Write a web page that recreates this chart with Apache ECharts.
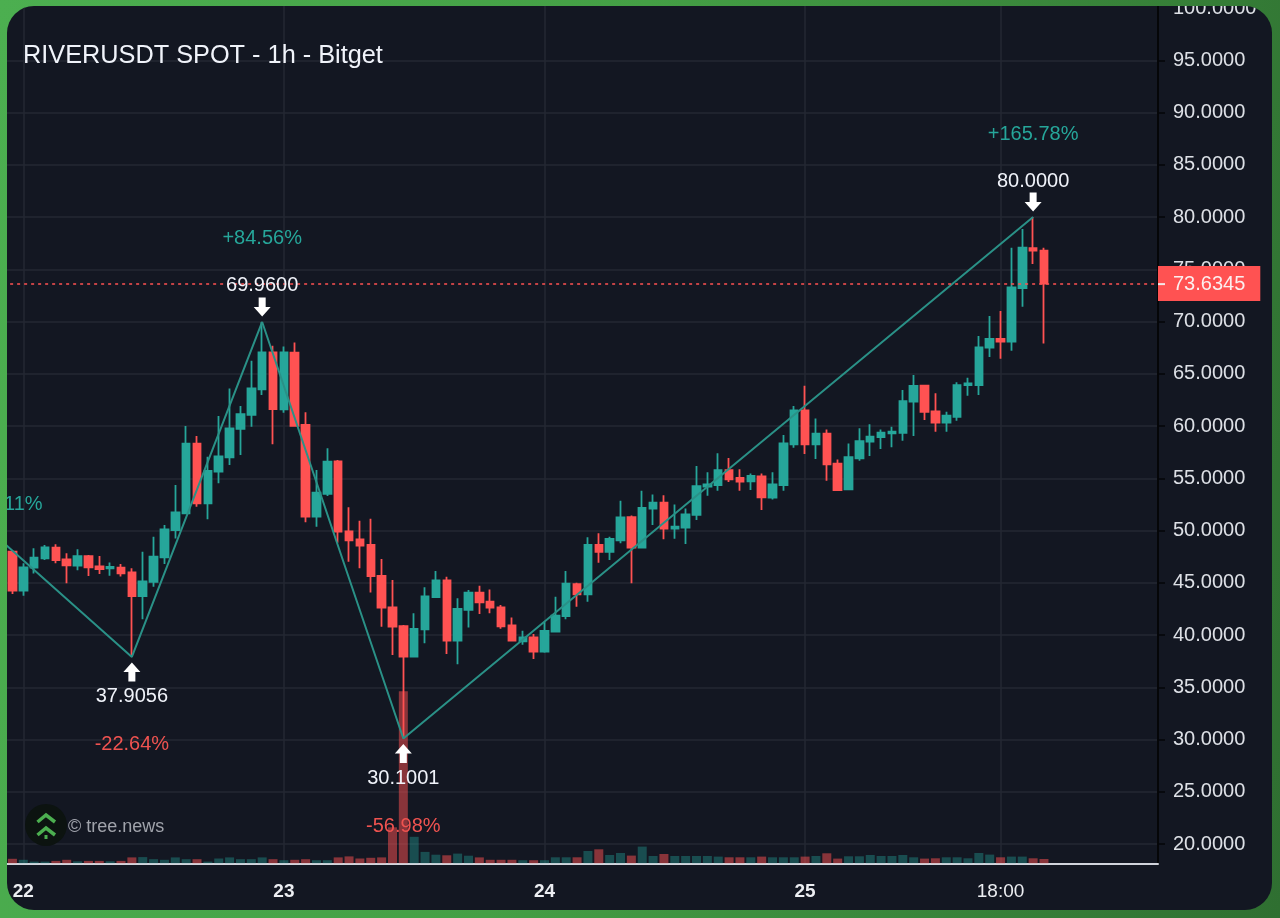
<!DOCTYPE html>
<html>
<head>
<meta charset="utf-8">
<title>RIVERUSDT SPOT - 1h - Bitget</title>
<script src="https://cdn.jsdelivr.net/npm/echarts@6/dist/echarts.min.js"></script>
<style>
  html, body { margin: 0; padding: 0; width: 1280px; height: 918px; overflow: hidden; }
  body { background: linear-gradient(100deg, #4caf50 0%, #449f45 45%, #2f6f31 100%); }
  #card { position: absolute; left: 7px; top: 6px; width: 1265px; height: 904px; border-radius: 27px; overflow: hidden; background: #131722; }
  #chart { position: absolute; left: -7px; top: -6px; width: 1280px; height: 918px; }
</style>
</head>
<body>
<div id="card"><div id="chart"></div></div>
<script>
// hourly candles (first one is 21st 23:00)
var opens = [47.98,44.25,46.45,47.34,48.36,47.24,46.64,47.56,46.57,46.38,46.45,46.00,43.73,45.08,47.44,50.05,51.65,58.31,52.60,55.63,57.00,59.72,61.06,63.51,67.05,61.60,67.02,60.10,51.33,53.50,56.62,49.92,49.16,48.62,45.65,42.65,40.86,37.93,40.55,43.64,45.23,39.46,42.40,44.05,43.19,42.65,40.93,39.40,39.78,38.41,40.32,41.82,44.88,43.89,48.62,47.95,49.06,51.29,48.36,52.09,52.67,50.18,50.27,51.49,54.20,54.36,55.79,55.03,54.71,55.19,53.15,54.36,58.25,61.50,58.25,59.27,56.40,53.94,56.91,58.50,58.95,59.30,59.36,62.33,63.86,61.40,60.32,60.89,63.92,63.92,67.50,68.33,68.07,73.21,77.03,76.78];
var closes = [44.25,46.48,47.40,48.39,47.18,46.67,47.56,46.48,46.32,46.51,45.90,43.73,45.14,47.50,50.11,51.74,58.31,52.60,55.70,57.10,59.78,61.15,63.60,67.05,61.63,67.05,60.03,51.33,53.62,56.59,49.89,49.06,48.55,45.65,42.62,40.80,37.93,40.58,43.70,45.23,39.46,42.49,44.05,43.13,42.62,40.83,39.46,39.78,38.41,40.39,41.85,44.92,43.89,48.62,47.95,49.19,51.26,48.36,52.16,52.67,50.18,50.37,51.55,54.26,54.42,55.79,54.90,54.68,55.22,53.18,54.42,58.34,61.50,58.25,59.27,56.33,53.88,57.03,58.56,58.98,59.36,59.46,62.39,63.83,61.37,60.32,61.00,63.92,64.08,67.53,68.33,68.07,73.27,77.07,76.78,73.6345];
var lows = [43.93,43.77,45.90,47.18,46.86,44.95,46.20,45.65,45.84,45.68,45.60,37.9056,41.50,44.63,46.80,49.25,51.65,52.28,51.07,54.52,56.27,57.23,59.94,62.97,58.25,61.28,60.00,50.80,50.37,53.30,48.84,47.02,46.38,44.06,40.80,38.09,30.1001,37.87,39.21,43.64,38.18,37.20,40.71,42.01,42.08,40.61,39.40,39.08,37.71,38.31,40.26,41.50,42.71,43.19,46.92,47.18,48.78,44.95,48.30,50.53,49.16,49.22,48.71,51.00,53.34,53.81,54.64,53.81,53.88,51.96,52.97,53.81,57.93,57.32,56.84,54.77,53.81,53.94,56.68,57.13,57.80,57.96,58.60,59.04,60.57,59.46,59.46,60.51,62.90,62.97,66.60,66.44,67.21,71.42,75.50,67.91];
var highs = [48.00,46.86,48.30,48.62,48.68,47.82,48.20,47.66,47.56,46.95,46.80,46.38,47.98,49.40,50.53,54.36,60.00,59.05,57.07,60.96,63.60,61.92,66.25,69.96,67.69,67.60,68.00,61.31,55.79,57.87,56.75,52.22,50.94,51.14,47.28,45.27,40.96,42.08,44.57,46.13,45.59,43.51,44.31,44.72,44.37,42.87,41.69,40.42,40.10,41.28,43.67,46.13,45.01,49.35,49.73,49.41,52.86,51.45,53.81,53.46,53.37,52.50,52.12,56.17,55.57,57.39,56.94,55.86,55.47,55.47,55.57,59.14,61.91,63.86,60.73,59.68,56.81,58.34,59.78,60.16,59.68,59.94,63.45,64.88,63.90,63.13,61.37,64.18,64.63,68.61,70.53,71.00,77.07,78.85,80.00,77.07];
var volumes = [4.5,3.5,1.7,1.7,2.4,3.5,2,2.4,2.4,2,2.4,5.9,6.2,4.1,3.5,5.9,4.1,4.1,1.7,4.8,5.9,4.1,4.1,5.9,4.1,3.1,3.5,4.1,3.1,3.1,5.9,6.9,4.8,5.5,5.9,36,172,26.5,11.4,8.6,8,9.7,7.6,5.9,3.5,3.5,3.5,3.1,3.1,3.1,6,6,6,12.3,14,8.3,10.3,7.7,16.7,7.3,9.3,7.3,7.3,7.3,7.3,6.7,6,6,6,6.7,6,6,6,6.7,7.3,10,4.7,7,7,8.3,7.3,7.3,8.3,6,4.7,5,6,6,5,10.3,8.7,6,6.7,6.7,5,4.3];

// zigzag between the swing points, category slot 0 sits just off the left edge
var zigzagSlots = [0, 12, 24, 37, 95];
var zigzagPrices = [49.0, 37.9056, 69.96, 30.1001, 80];
var pivotSlots = [12, 24, 37, 95];
var pivotPrices = [37.9056, 69.96, 30.1001, 80];
var pivotChanges = ['-22.64%', '+84.56%', '-56.98%', '+165.78%'];
var cutChangeSlot = 2, cutChangePrice = 52.54, cutChangeText = '11%';

var lastPrice = 73.6345;
var yTicks = [20, 25, 30, 35, 40, 45, 50, 55, 60, 65, 70, 75, 80, 85, 90, 95, 100];
var yGridTicks = [20, 25, 30, 35, 40, 45, 50, 55, 60, 65, 70, 75, 80, 85, 90, 95];
var xTickSlots = [2, 26, 50, 74, 92];
var xTickLabels = ['22', '23', '24', '25', '18:00'];

var UP = '#26a69a', DOWN = '#ff5252', TEXT = '#dde0e6', GRID = '#252933';
var FONT = '"Liberation Sans", Arial, sans-serif';
var ARROW_DOWN = 'path://M5,0 H12 V9 H17 L8.5,18 L0,9 H5 Z';
var ARROW_UP = 'path://M8.5,0 L17,9 H12 V18 H5 V9 H0 Z';

var slotCount = 107;
var categories = [];
for (var i = 0; i < slotCount; i++) categories.push('' + i);

var candleData = ['-'], volumeData = [null];
for (var c = 0; c < opens.length; c++) {
  candleData.push([opens[c], closes[c], lows[c], highs[c]]);
  volumeData.push({
    value: volumes[c],
    itemStyle: { color: closes[c] >= opens[c] ? 'rgba(38,166,154,0.38)' : 'rgba(255,82,82,0.5)' }
  });
}

function isTickSlot(index) { return xTickSlots.indexOf(index) >= 0; }

var zigzagData = zigzagSlots.map(function (s, n) { return [s, zigzagPrices[n]]; });
var arrowData = pivotSlots.map(function (s, n) {
  var up = n % 2 === 0;
  return { value: [s, pivotPrices[n]], symbol: up ? ARROW_UP : ARROW_DOWN, symbolOffset: [0, up ? 15 : -15] };
});
var priceLabelData = pivotSlots.map(function (s, n) {
  var up = n % 2 === 0;
  return {
    value: [s, pivotPrices[n]],
    label: { offset: [0, up ? 40 : -36], formatter: pivotPrices[n].toFixed(4) }
  };
});
var changeLabelData = pivotSlots.map(function (s, n) {
  var up = n % 2 === 0;
  return {
    value: [s, pivotPrices[n]],
    label: { offset: [0, up ? 88 : -83], formatter: pivotChanges[n], color: up ? '#ef5350' : '#26a69a' }
  };
});
changeLabelData.push({
  value: [cutChangeSlot, cutChangePrice],
  label: { formatter: cutChangeText, color: '#26a69a' }
});

var chart = echarts.init(document.getElementById('chart'), null, { renderer: 'canvas' });
chart.setOption({
  animation: false,
  backgroundColor: 'transparent',
  textStyle: { fontFamily: FONT },
  title: {
    text: 'RIVERUSDT SPOT - 1h - Bitget',
    left: 23, top: 44, padding: 0,
    textStyle: { color: '#f0f3fa', fontSize: 25.3, fontWeight: 'normal', fontFamily: FONT }
  },
  grid: { left: -3.86, right: 122, top: 0, bottom: 54, outerBoundsMode: 'none' },
  xAxis: {
    type: 'category',
    data: categories,
    axisLine: { lineStyle: { color: '#d1d4dc', width: 2 } },
    axisTick: { alignWithLabel: true, length: 6, interval: function (index) { return isTickSlot(index); }, lineStyle: { color: '#d1d4dc', width: 1.5 } },
    axisLabel: {
      interval: function (index) { return isTickSlot(index); },
      margin: 18, fontSize: 19, color: '#eceef2', hideOverlap: false,
      formatter: function (value, index) {
        var label = xTickLabels[xTickSlots.indexOf(index)];
        return label === '18:00' ? label : '{day|' + label + '}';
      },
      rich: { day: { fontWeight: 'bold', fontSize: 19, color: '#eceef2', fontFamily: FONT } }
    },
    splitLine: { show: true, alignWithLabel: true, interval: function (index) { return isTickSlot(index); }, lineStyle: { color: GRID, width: 1.5 } }
  },
  yAxis: [{
    type: 'value',
    position: 'right',
    min: 18.09, max: 100.77,
    axisLine: { show: true, lineStyle: { color: '#050608', width: 2 } },
    axisTick: { show: true, length: 7, customValues: yGridTicks, lineStyle: { color: '#050608', width: 1.5 } },
    axisLabel: {
      customValues: yTicks, margin: 15, fontSize: 20, color: TEXT, padding: [2, 0, 0, 0],
      formatter: function (v) { return v.toFixed(4); }
    },
    splitLine: { show: true, lineStyle: { color: GRID, width: 1.5 } }
  }, {
    // volume scale in pixels of the pane, hidden. base sits just above the axis line
    type: 'value', show: false, min: -0.7, max: 863.3, splitLine: { show: false }
  }],
  series: [{
    name: 'Volume', type: 'bar', yAxisIndex: 1, barWidth: 9, z: 1, silent: true,
    data: volumeData
  }, {
    name: 'RIVERUSDT', type: 'candlestick', z: 3, barWidth: 8,
    itemStyle: { color: UP, color0: DOWN, borderColor: UP, borderColor0: DOWN, borderWidth: 1.8 },
    data: candleData,
    markLine: {
      silent: true, symbol: 'none', animation: false,
      lineStyle: { color: DOWN, type: [3, 4], width: 1.5 },
      label: {
        position: 'end', distance: 0,
        formatter: '{t|}{v|' + lastPrice.toFixed(4) + '}',
        backgroundColor: DOWN,
        padding: [8, 15, 7, 0],
        rich: {
          t: { width: 7, height: 2, backgroundColor: '#f4e9e9' },
          v: { fontSize: 20, color: '#fbeeee', padding: [0, 0, 0, 8], fontFamily: FONT }
        }
      },
      data: [{ yAxis: lastPrice }]
    }
  }, {
    name: 'Zigzag', type: 'line', z: 4, symbol: 'none', silent: true,
    lineStyle: { color: '#2a9187', width: 2 },
    data: zigzagData
  }, {
    name: 'Arrows', type: 'scatter', z: 5, symbolSize: [17, 19], silent: true,
    itemStyle: { color: '#ffffff', opacity: 1 },
    data: arrowData
  }, {
    name: 'Prices', type: 'scatter', z: 5, symbolSize: 0, silent: true,
    itemStyle: { opacity: 1 },
    label: { show: true, position: 'inside', fontSize: 20, color: '#f0f3fa', opacity: 1, fontFamily: FONT },
    data: priceLabelData
  }, {
    name: 'Changes', type: 'scatter', z: 5, symbolSize: 0, silent: true,
    itemStyle: { opacity: 1 },
    label: { show: true, position: 'inside', fontSize: 20, opacity: 1, fontFamily: FONT },
    data: changeLabelData
  }],
  // tree.news watermark
  graphic: [
    { type: 'circle', z: 6, shape: { cx: 46, cy: 825, r: 21 }, style: { fill: '#0c1310' } },
    { type: 'polyline', z: 7, shape: { points: [[37.5, 822], [46, 815], [55, 822]] }, style: { stroke: '#4caf50', lineWidth: 3.5, fill: null } },
    { type: 'polyline', z: 7, shape: { points: [[37.5, 835], [46, 828], [55, 835]] }, style: { stroke: '#4caf50', lineWidth: 3.5, fill: null } },
    { type: 'rect', z: 7, shape: { x: 44.5, y: 835, width: 3, height: 4 }, style: { fill: '#4caf50' } },
    { type: 'text', z: 7, x: 68, y: 818, style: { text: '© tree.news', fill: '#a0a3ab', fontSize: 18, fontFamily: FONT } }
  ]
});
</script>
</body>
</html>
